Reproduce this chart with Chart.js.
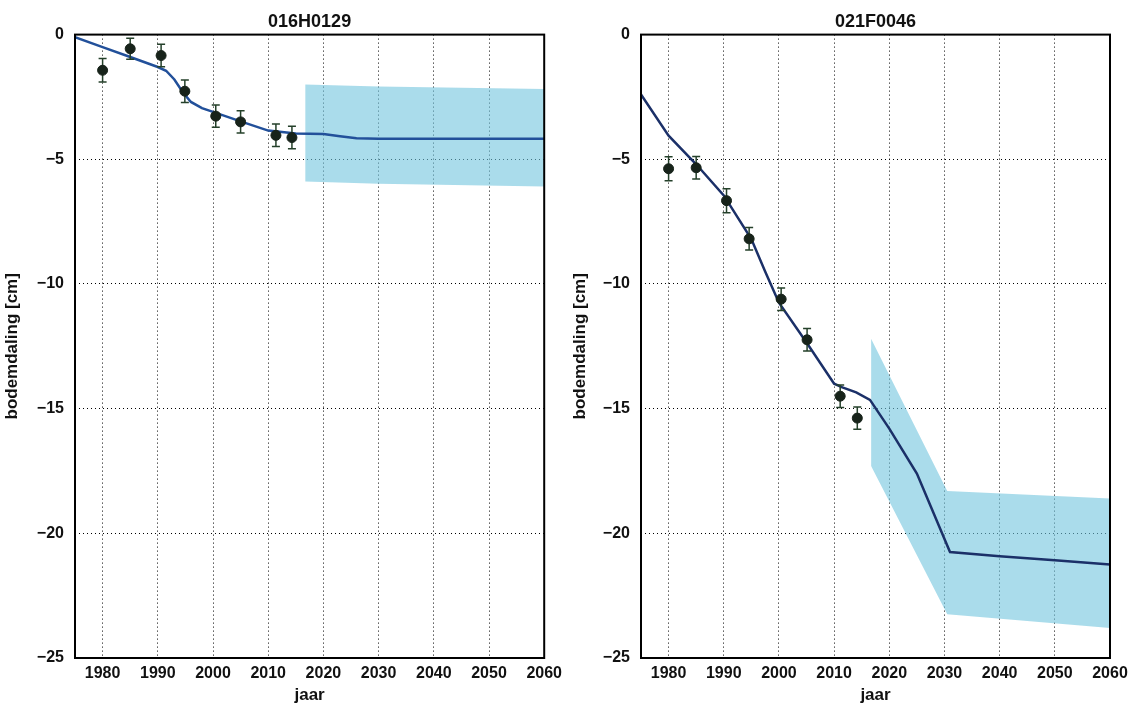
<!DOCTYPE html>
<html>
<head>
<meta charset="utf-8">
<script src="https://cdn.jsdelivr.net/npm/chart.js@4.4.1/dist/chart.umd.min.js"></script>
<style>
  body { margin: 0; background: #fff; }
  #wrap { display: flex; width: 1137px; height: 706px; }
  canvas { display: block; }
</style>
</head>
<body>
<div id="wrap">
  <canvas id="leftChart" width="568" height="706"></canvas>
  <canvas id="rightChart" width="569" height="706"></canvas>
</div>
<script>
// axis ticks
var xTicks = [1980, 1990, 2000, 2010, 2020, 2030, 2040, 2050, 2060];
var yTicks = [0, -5, -10, -15, -20, -25];

// 016H0129
var leftTitle = '016H0129';
var leftObsYears = [1980, 1985, 1990.6, 1994.9, 2000.5, 2005, 2011.4, 2014.3];
var leftObsValues = [-1.43, -0.57, -0.84, -2.27, -3.27, -3.5, -4.04, -4.13];
var leftObsErrors = [0.47, 0.42, 0.45, 0.45, 0.45, 0.45, 0.45, 0.45];
var leftFitYears = [1975, 1980, 1985, 1990, 1991.5, 1993, 1994.5, 1996, 1998, 2000, 2005, 2010, 2015, 2020, 2023, 2026, 2030, 2060];
var leftFitValues = [-0.1, -0.5, -0.9, -1.3, -1.45, -1.8, -2.3, -2.7, -2.95, -3.1, -3.48, -3.85, -3.97, -3.99, -4.08, -4.16, -4.18, -4.18];
var leftBandYears = [2016.7, 2030, 2060];
var leftBandUpper = [-2.0, -2.08, -2.18];
var leftBandLower = [-5.89, -5.98, -6.09];

// 021F0046
var rightTitle = '021F0046';
var rightObsYears = [1980, 1985, 1990.5, 1994.6, 2000.4, 2005.1, 2011.1, 2014.2];
var rightObsValues = [-5.38, -5.34, -6.66, -8.19, -10.61, -12.24, -14.5, -15.38];
var rightObsErrors = [0.48, 0.45, 0.48, 0.45, 0.45, 0.45, 0.45, 0.45];
var rightFitYears = [1975, 1980, 1985, 1990, 1995, 1997.5, 2000, 2005, 2010, 2011.5, 2014, 2016.5, 2020, 2025, 2031, 2040, 2050, 2060];
var rightFitValues = [-2.4, -4.05, -5.2, -6.45, -8.2, -9.5, -10.75, -12.35, -14.0, -14.15, -14.35, -14.65, -15.8, -17.6, -20.75, -20.92, -21.08, -21.25];
var rightBandYears = [2016.7, 2030.5, 2060];
var rightBandUpper = [-12.2, -18.3, -18.6];
var rightBandLower = [-17.3, -23.25, -23.8];

Chart.defaults.font.family = "'Liberation Sans', Arial, sans-serif";
Chart.defaults.font.weight = 'bold';
Chart.defaults.color = '#111';

var bandColor = 'rgba(113, 197, 222, 0.6)';

function toPoints(xs, ys) {
  return xs.map(function (x, i) { return { x: x, y: ys[i] }; });
}

// error bars + closed frame round the plot area
var extrasPlugin = {
  id: 'extras',
  beforeDatasetDraw: function (chart, args) {
    var ds = chart.data.datasets[args.index];
    if (!ds.errors) return;
    var ctx = chart.ctx, xs = chart.scales.x, ys = chart.scales.y;
    ctx.save();
    ctx.strokeStyle = '#24402a';
    ctx.lineWidth = 1.5;
    ds.data.forEach(function (p, i) {
      var px = xs.getPixelForValue(p.x);
      var top = ys.getPixelForValue(p.y + ds.errors[i]);
      var bot = ys.getPixelForValue(p.y - ds.errors[i]);
      ctx.beginPath();
      ctx.moveTo(px, top); ctx.lineTo(px, bot);
      ctx.moveTo(px - 4, top); ctx.lineTo(px + 4, top);
      ctx.moveTo(px - 4, bot); ctx.lineTo(px + 4, bot);
      ctx.stroke();
    });
    ctx.restore();
  },
  afterDraw: function (chart) {
    var a = chart.chartArea, ctx = chart.ctx;
    ctx.save();
    ctx.strokeStyle = '#000';
    ctx.lineWidth = 2;
    ctx.strokeRect(a.left, a.top, a.right - a.left, a.bottom - a.top);
    ctx.restore();
  }
};

function makeChart(id, title, axisWidth, padRight, lineColor, obsX, obsY, obsErr, fitX, fitY, bandX, bandUp, bandLo) {
  return new Chart(document.getElementById(id), {
    type: 'line',
    data: {
      datasets: [
        {
          data: toPoints(bandX, bandUp),
          borderWidth: 0,
          borderColor: 'transparent',
          pointRadius: 0,
          fill: '+1',
          backgroundColor: bandColor,
          order: 4,
        },
        {
          data: toPoints(bandX, bandLo),
          borderWidth: 0,
          borderColor: 'transparent',
          pointRadius: 0,
          fill: false,
          order: 4,
        },
        {
          data: toPoints(fitX, fitY),
          borderColor: lineColor,
          borderWidth: 2.5,
          pointRadius: 0,
          fill: false,
          tension: 0,
          order: 2,
        },
        {
          data: toPoints(obsX, obsY),
          errors: obsErr,
          showLine: false,
          pointRadius: 5,
          pointBackgroundColor: '#17231a',
          pointBorderColor: '#17231a',
          pointBorderWidth: 1,
          order: 1,
        },
      ],
    },
    options: {
      responsive: false,
      devicePixelRatio: 1,
      animation: false,
      layout: { padding: { left: 0, right: padRight, top: 0, bottom: 0 } },
      plugins: {
        legend: { display: false },
        tooltip: { enabled: false },
        title: {
          display: true,
          text: title,
          fullSize: false,
          color: '#111',
          font: { size: 18, weight: 'bold' },
          padding: { top: 11, bottom: 2 },
        },
      },
      scales: {
        x: {
          type: 'linear',
          min: 1975,
          max: 2060,
          afterBuildTicks: function (s) { s.ticks = xTicks.map(function (v) { return { value: v }; }); },
          afterFit: function (s) { s.height = 48; },
          grid: { color: '#000', lineWidth: 1, drawTicks: false },
          border: { display: false, dash: [1, 3] },
          ticks: {
            color: '#111',
            padding: 6,
            maxRotation: 0,
            font: { size: 16, weight: 'bold' },
            callback: function (v) { return String(v); },
          },
          title: {
            display: true,
            text: 'jaar',
            color: '#111',
            font: { size: 17, weight: 'bold' },
            padding: { top: 0, bottom: 0 },
          },
        },
        y: {
          type: 'linear',
          min: -25,
          max: 0,
          afterBuildTicks: function (s) { s.ticks = yTicks.map(function (v) { return { value: v }; }); },
          afterFit: function (s) { s.width = axisWidth; },
          grid: { color: '#000', lineWidth: 1, drawTicks: false },
          border: { display: false, dash: [1, 3] },
          ticks: {
            color: '#111',
            padding: 11,
            font: { size: 16, weight: 'bold' },
            callback: function (v) { return v < 0 ? '\u2212' + (-v) : String(v); },
          },
          title: {
            display: true,
            text: 'bodemdaling [cm]',
            color: '#111',
            font: { size: 17, weight: 'bold' },
            padding: { top: 2, bottom: 0 },
          },
        },
      },
    },
    plugins: [extrasPlugin],
  });
}

makeChart('leftChart', leftTitle, 75, 21, '#22509a',
  leftObsYears, leftObsValues, leftObsErrors,
  leftFitYears, leftFitValues,
  leftBandYears, leftBandUpper, leftBandLower);

makeChart('rightChart', rightTitle, 73, 27, '#1b3068',
  rightObsYears, rightObsValues, rightObsErrors,
  rightFitYears, rightFitValues,
  rightBandYears, rightBandUpper, rightBandLower);
</script>
</body>
</html>
